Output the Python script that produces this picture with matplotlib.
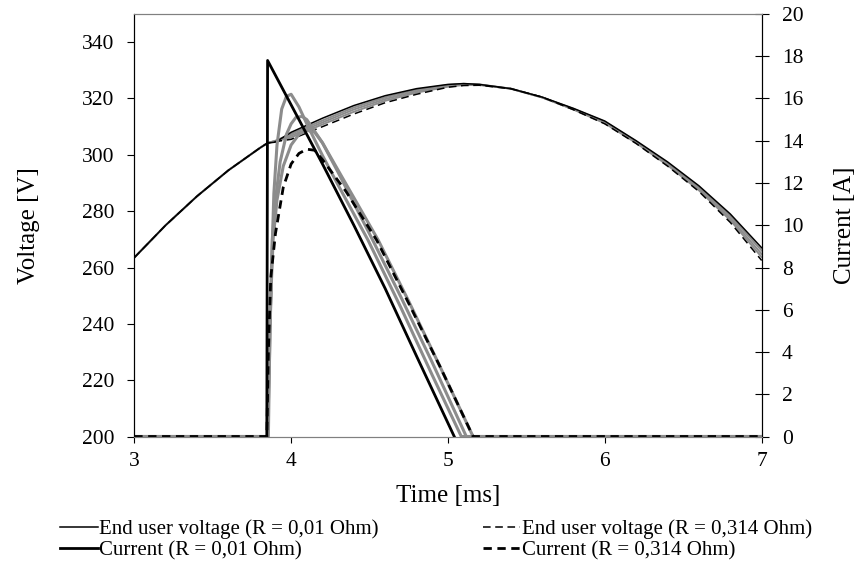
import matplotlib
matplotlib.use("Agg")
import matplotlib.pyplot as plt

plt.rcParams['font.family'] = ['Liberation Serif', 'DejaVu Serif']

# end user voltage [V], five resistances (0,01 ... 0,314 Ohm)
t_v = [3.0, 3.2, 3.4, 3.6, 3.8, 3.85, 3.9, 4.0, 4.2, 4.4, 4.6, 4.8, 5.0, 5.1,
       5.2, 5.4, 5.6, 5.8, 6.0, 6.2, 6.4, 6.6, 6.8, 7.0]
v_r001 = [263.5, 275, 285.3, 294.5, 302.4, 304.2, 304.5, 308, 313, 317.5, 321,
          323.5, 325, 325.3, 325, 323.5, 320.5, 316.5, 312, 305, 297.5, 289, 279, 267]
v_gray1 = [263.5, 275, 285.3, 294.5, 302.4, 304.2, 305, 307.4, 312.2, 316.8, 320.4,
           323.1, 324.8, 325.2, 325, 323.5, 320.4, 316.3, 311.7, 304.7, 297, 288.4, 278.3, 266]
v_gray2 = [263.5, 275, 285.3, 294.5, 302.4, 304.2, 304.9, 306.8, 311.5, 316.1, 319.8,
           322.6, 324.5, 325, 324.9, 323.5, 320.4, 316.2, 311.4, 304.5, 296.7, 287.9, 277.5, 264.8]
v_gray3 = [263.5, 275, 285.3, 294.5, 302.4, 304.2, 304.8, 306.2, 310.8, 315.3, 319.2,
           322.1, 324.2, 324.8, 324.8, 323.5, 320.4, 316.1, 311.2, 304.2, 296.3, 287.4, 276.8, 263.7]
v_r314 = [263.5, 275, 285.3, 294.5, 302.4, 304.2, 304.7, 305.5, 310, 314.5, 318.5,
          321.5, 324, 324.6, 324.7, 323.5, 320.5, 316, 311, 304, 296, 287, 276, 262.5]

# current [A]
t_i001 = [3.845, 3.85, 4.0, 4.2, 4.4, 4.6, 4.8, 5.04]
i_r001 = [0, 17.8, 15.7, 12.9, 10.0, 7.0, 3.8, 0]

t_ig1 = [3.0, 3.85, 3.86, 3.875, 3.89, 3.91, 3.94, 3.97, 4.0, 4.05, 4.1, 4.2, 4.3,
         4.49, 4.7, 4.9, 5.085, 7.0]
i_gray1 = [0, 0, 3, 8, 11.5, 13.8, 15.5, 16.1, 16.2, 15.6, 14.8, 13.3, 11.9,
           9.3, 6.1, 2.9, 0, 0]

t_ig2 = [3.0, 3.855, 3.865, 3.88, 3.9, 3.93, 3.97, 4.0, 4.03, 4.07, 4.1, 4.2, 4.3,
         4.52, 4.7, 4.9, 5.117, 7.0]
i_gray2 = [0, 0, 5, 9.3, 11.2, 13.0, 14.3, 14.8, 15.1, 15.15, 15.0, 13.9, 12.5,
           9.3, 6.6, 3.5, 0, 0]

t_ig3 = [3.0, 3.85, 3.862, 3.885, 3.91, 3.95, 4.0, 4.05, 4.1, 4.15, 4.2, 4.3,
         4.555, 4.75, 4.95, 5.16, 7.0]
i_gray3 = [0, 0, 5, 9.3, 11.2, 12.8, 13.8, 14.3, 14.5, 14.4, 13.9, 12.6,
           9.3, 6.4, 3.3, 0, 0]

t_i314 = [3.0, 3.845, 3.855, 3.87, 3.9, 3.95, 4.0, 4.05, 4.1, 4.15, 4.2,
          4.35, 4.545, 4.75, 4.95, 5.16, 7.0]
i_r314 = [0, 0, 4, 7.5, 9.6, 11.8, 12.9, 13.4, 13.6, 13.55, 13.1,
          11.6, 9.3, 6.3, 3.3, 0, 0]

GRAY = '#8c8c8c'

fig = plt.figure(figsize=(8.59, 5.62), dpi=100)
ax = fig.add_axes([0.1563, 0.2233, 0.7304, 0.7518])
ax2 = ax.twinx()

# voltages on the left axis
ax.plot(t_v, v_gray1, color=GRAY, lw=1.4)
ax.plot(t_v, v_gray2, color=GRAY, lw=1.4)
ax.plot(t_v, v_gray3, color=GRAY, lw=1.4)
lv1, = ax.plot(t_v, v_r001, color='black', lw=1.1,
               label='End user voltage (R = 0,01 Ohm)')
lv2, = ax.plot(t_v, v_r314, color='black', lw=1.1, ls=(0, (5, 3)),
               label='End user voltage (R = 0,314 Ohm)')

# currents on the right axis
ax2.plot(t_ig1, i_gray1, color=GRAY, lw=2.2)
ax2.plot(t_ig2, i_gray2, color=GRAY, lw=2.2)
ax2.plot(t_ig3, i_gray3, color=GRAY, lw=2.2)
li1, = ax2.plot(t_i001, i_r001, color='black', lw=2.0,
                label='Current (R = 0,01 Ohm)')
li2, = ax2.plot(t_i314, i_r314, color='black', lw=2.0, ls=(0, (3, 2)),
                label='Current (R = 0,314 Ohm)')

ax.set_xlim(3, 7)
ax.set_ylim(200, 350)
ax2.set_ylim(0, 20)
ax.set_xticks([3, 4, 5, 6, 7])
ax.set_yticks(range(200, 341, 20))
ax2.set_yticks(range(0, 21, 2))

ax.tick_params(axis='y', direction='out', length=4.75, width=0.8, labelsize=15.5, pad=9.5)
ax.tick_params(axis='x', direction='out', length=4.3, width=0.8, labelsize=15.5, pad=7)
ax2.tick_params(axis='y', direction='inout', length=9.6, width=0.8, labelsize=15.5, pad=9.6)

for a in (ax, ax2):
    a.spines['top'].set_color('#808080')
    a.spines['bottom'].set_color('#808080')
    a.spines['left'].set_color('black')
    a.spines['right'].set_color('black')

ax.set_xlabel('Time [ms]', fontsize=18, labelpad=10)
ax.set_ylabel('Voltage [V]', fontsize=18, labelpad=30)
ax2.set_ylabel('Current [A]', fontsize=18, labelpad=22)

fig.legend(handles=[lv1, li1, lv2, li2], loc='upper left',
           bbox_to_anchor=(60 / 859, 0.076), ncol=2, frameon=False,
           fontsize=15, handlelength=1.8, handletextpad=0.07,
           columnspacing=5.0, labelspacing=0.1, borderpad=0.0,
           borderaxespad=0.0)

fig.savefig('out.png', dpi=100)
